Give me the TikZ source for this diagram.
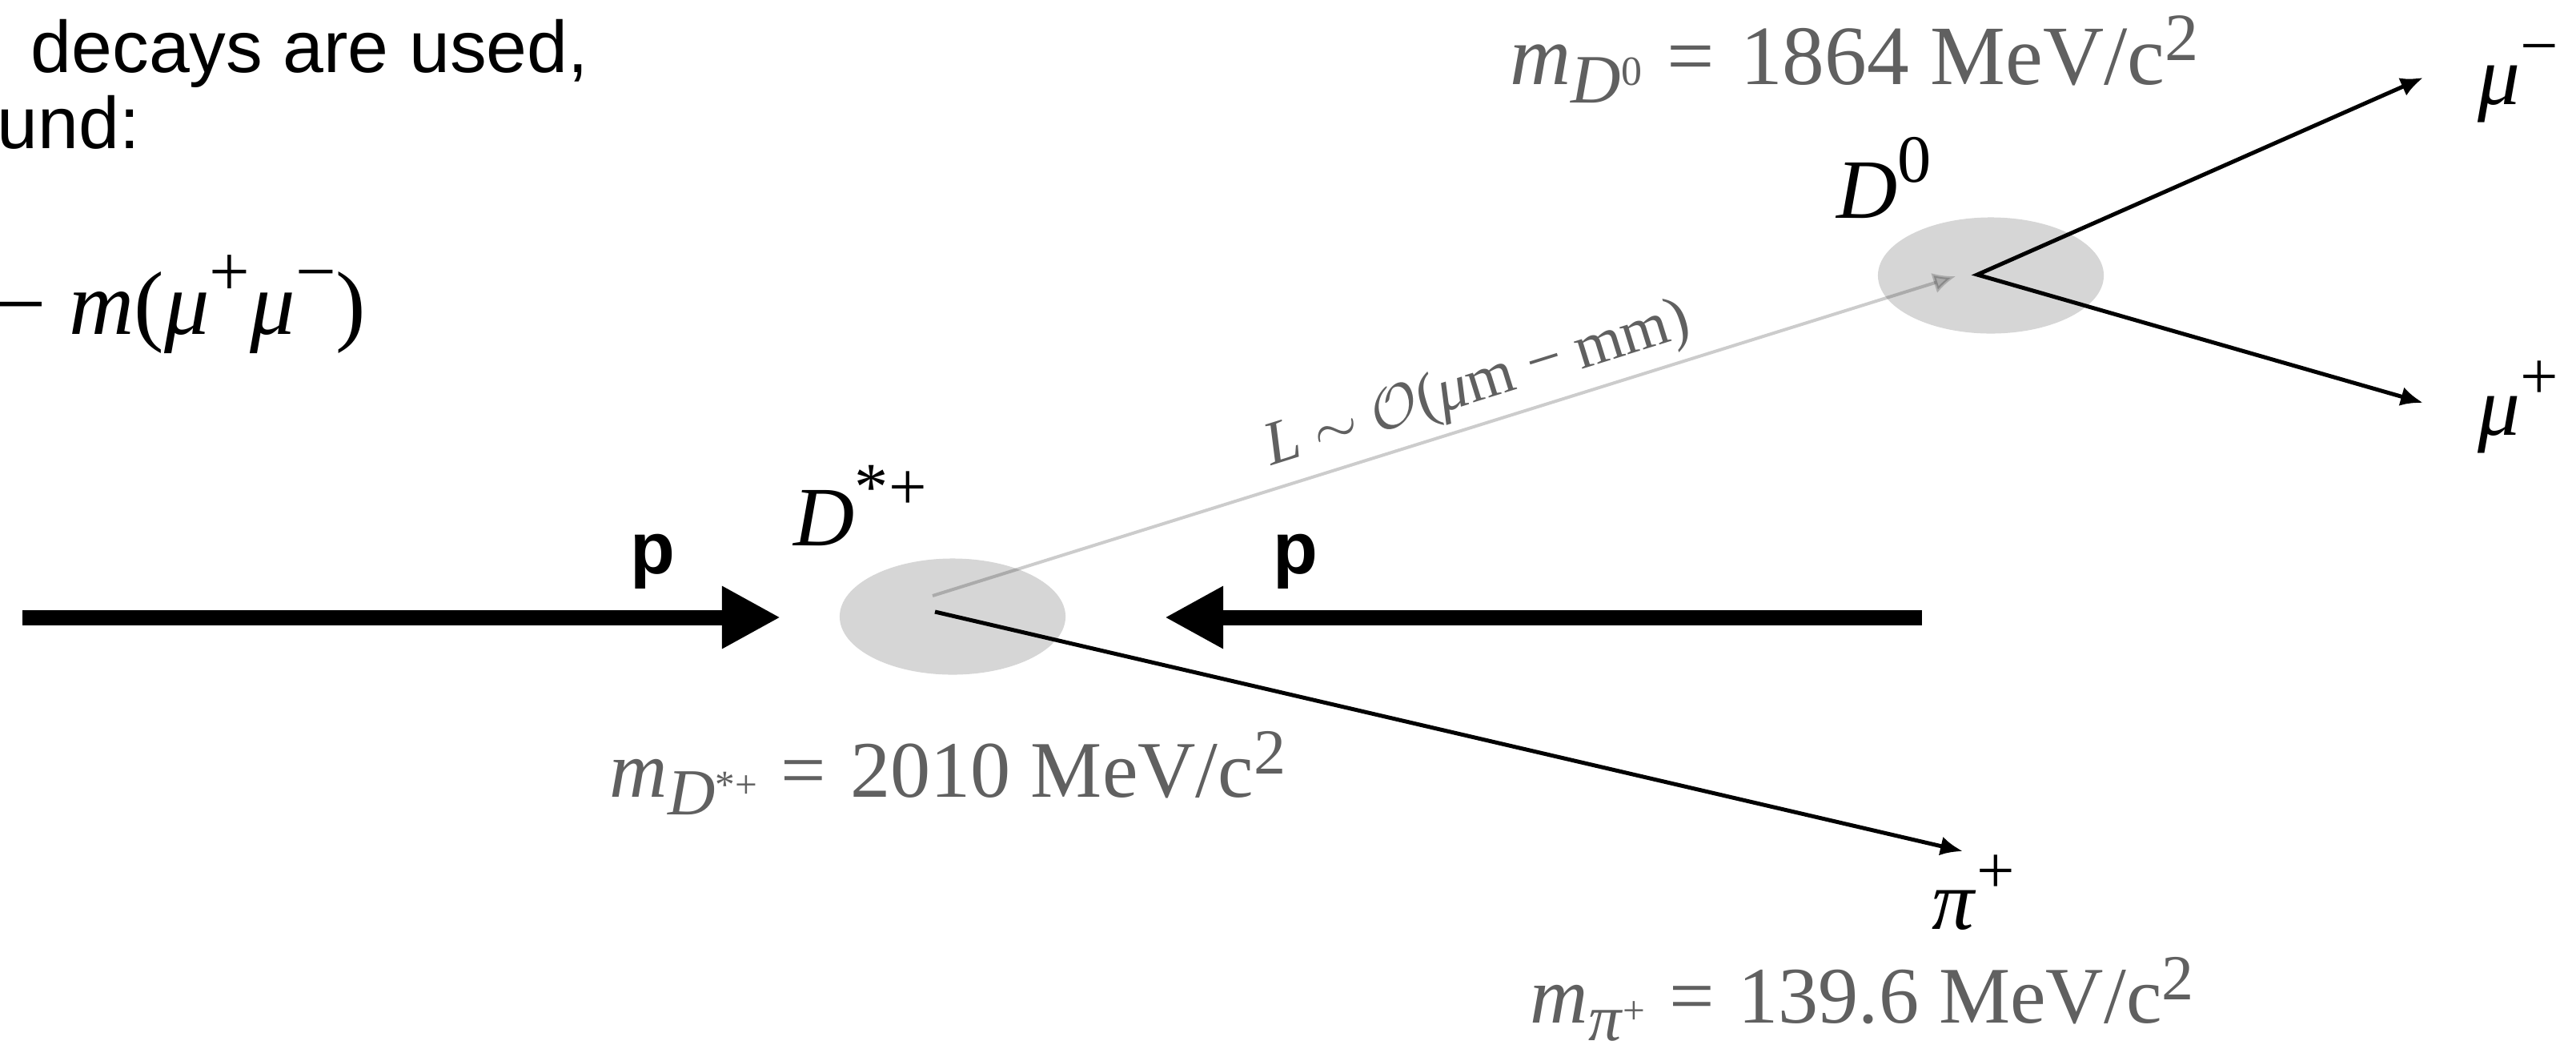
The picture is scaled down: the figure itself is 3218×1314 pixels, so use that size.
\documentclass[tikz,border=0pt]{standalone}
\usepackage{fontspec}
\setmainfont{Liberation Serif}
\setsansfont{Liberation Sans}
\usetikzlibrary{arrows.meta,shapes.geometric}
\definecolor{blobgray}{RGB}{214,214,214}
\definecolor{labgray}{RGB}{96,96,96}
% raised / lowered indices built by hand (larger than TeX's default script size)
\newcommand{\hi}[2][0.42em]{\raisebox{#1}{\scalebox{0.8}{#2}}}
\newcommand{\lo}[1]{\raisebox{-0.22em}{\scalebox{0.82}{#1}}}
\newcommand{\hii}[1]{\raisebox{0.25em}{\scalebox{0.6}{#1}}}
\newcommand{\eqs}{\hspace{0.3em}=\hspace{0.3em}}
\tikzset{
  blob/.style={ellipse, fill=blobgray, draw=none, minimum width=2.82cm, minimum height=1.45cm, inner sep=0pt},
  beam/.style={line width=0.19cm, -{Triangle[length=0.73cm,width=0.73cm]}},
  track/.style={line width=0.05cm},
  tiptrack/.style={-{Latex[length=0.28cm,width=0.24cm]}},
  flight/.style={draw=black, draw opacity=0.2, fill opacity=0.2, line width=0.04cm, -{Latex[length=0.28cm,width=0.26cm]}},
  lab/.style={font=\fontsize{30}{36}\selectfont, inner sep=0pt},
  biglab/.style={font=\fontsize{32}{38}\selectfont, inner sep=0pt},
  masslab/.style={font=\fontsize{28.5}{34}\selectfont, text=labgray, inner sep=0pt},
  masslabB/.style={font=\fontsize{30}{36}\selectfont, text=labgray, inner sep=0pt},
  Llab/.style={font=\fontsize{22}{26}\selectfont, text=labgray, inner sep=0pt},
  slidetext/.style={font=\sffamily\fontsize{26}{31}\selectfont, inner sep=0pt},
  plab/.style={font=\sffamily\bfseries\fontsize{26}{31}\selectfont, inner sep=0pt}
}
\begin{document}
\begin{tikzpicture}[x=0.01cm,y=-0.01cm]
\useasboundingbox (0,0) rectangle (3218,1314);
\clip (0,0) rectangle (3218,1314);
% interaction regions
\node[blob] (dstar) at (1190,770) {};
\node[blob] (dzero) at (2487,344) {};
% vertices and track ends
\coordinate (vA) at (1168,764);
\coordinate (vAg) at (1165,744);
\coordinate (vB) at (2470,343);
\coordinate (tL) at (2443,345);
\coordinate (tmum) at (3027,97);
\coordinate (tmup) at (3027,503);
\coordinate (tpi) at (2452,1063);
\coordinate (bl) at (28,771);
\coordinate (blt) at (975,771);
\coordinate (br) at (2401,771);
\coordinate (brt) at (1455,771);
% beams
\draw[beam] (bl) -- (blt);
\draw[beam] (br) -- (brt);
% flight path
\draw[flight] (vAg) -- (tL);
% decay products
\draw[track, tiptrack] (vA) -- (tpi);
\draw[track, {Latex[length=0.28cm,width=0.24cm]}-{Latex[length=0.28cm,width=0.24cm]}] (tmum) -- (vB) -- (tmup);
% labels
\node[plab, anchor=base] (p1) at (815,716) {p};
\node[plab, anchor=base] (p2) at (1618,716) {p};
\node[lab, anchor=base west] (lDs) at (991,681) {\textit{D}\hi{*+}};
\node[lab, anchor=base west] (lD0) at (2294,272) {\textit{D}\hi{0}};
\node[lab, anchor=base west] (lmum) at (3095,130) {\textit{μ}\hi{−}};
\node[lab, anchor=base west] (lmup) at (3095,543) {\textit{μ}\hi{+}};
\node[lab, anchor=base west] (lpi) at (2413,1160) {\textit{π}\hi{+}};
\node[masslabB, anchor=base west] (mD0) at (1886,105) {\textit{m}\lo{\textit{D}\hii{0}}\eqs 1864 MeV/c\hi[0.28em]{2}};
\node[masslab, anchor=base west] (mDs) at (761,995) {\textit{m}\lo{\textit{D}\hii{*+}}\eqs 2010 MeV/c\hi[0.28em]{2}};
\node[masslab, anchor=base west] (mpi) at (1911,1277) {\textit{m}\lo{\textit{π}\hii{+}}\eqs 139.6 MeV/c\hi[0.28em]{2}};
\node[Llab, rotate=17.3] (Ltext) at (1846,482) {\textit{L} $\sim$ $\mathcal{O}$(\textit{μ}m − mm)};
% slide text cut at the left edge
\node[slidetext, anchor=base west] (t1) at (38,90) {decays are used,};
\node[slidetext, anchor=base west] (t2) at (-4,185) {und:};
\node[biglab, anchor=base east] (t3) at (458,417) {− \textit{m}(\textit{μ}\hi{+}\textit{μ}\hi{−})};
\end{tikzpicture}
\end{document}
